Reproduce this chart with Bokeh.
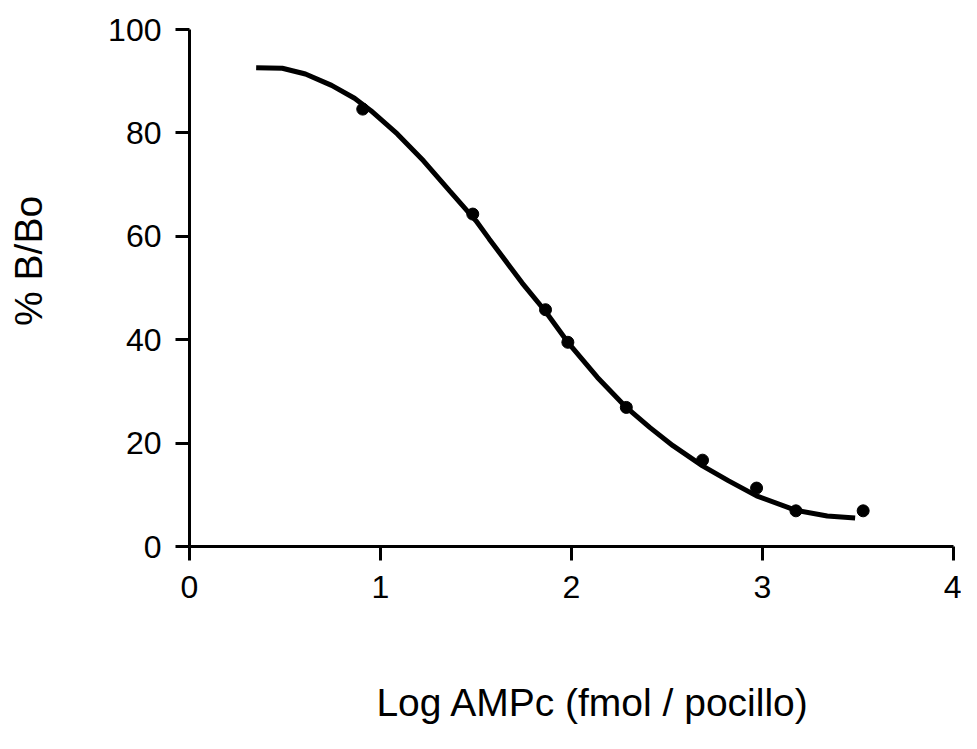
from bokeh.plotting import figure
from bokeh.models import Range1d, FixedTicker, LinearAxis
from bokeh.embed import file_html
from bokeh.resources import INLINE

# Measured points (log dose vs % B/Bo)
log_ampc = [0.907, 1.483, 1.864, 1.981, 2.287, 2.686, 2.969, 3.175, 3.527]
pct_b_bo = [84.6, 64.3, 45.8, 39.5, 26.9, 16.7, 11.3, 6.9, 6.9]

# Fitted curve
curve_x = [0.349, 0.486, 0.607, 0.744, 0.864, 0.950, 1.088, 1.225, 1.362, 1.500,
           1.569, 1.741, 1.861, 1.981, 2.136, 2.287, 2.411, 2.531, 2.686, 2.823,
           2.969, 3.175, 3.339, 3.485]
curve_y = [92.6, 92.5, 91.4, 89.2, 86.7, 84.3, 79.8, 74.6, 68.8, 63.0,
           59.5, 51.0, 45.6, 39.5, 32.7, 26.9, 23.0, 19.5, 15.6, 12.7,
           9.8, 7.0, 5.9, 5.5]

x_ticks = [0, 1, 2, 3, 4]
y_ticks = [0, 20, 40, 60, 80, 100]
x_title = "Log AMPc (fmol / pocillo)"
y_title = "% B/Bo"

NBSP = "\u00a0"

p = figure(width=961, height=733, output_backend="svg", toolbar_location=None,
           x_range=Range1d(0, 4), y_range=Range1d(0, 100),
           min_border_left=189, min_border_right=8, min_border_top=29,
           min_border_bottom=187, background_fill_color="white",
           border_fill_color="white")
p.outline_line_color = None
p.grid.visible = False

p.line(curve_x, curve_y, line_color="black", line_width=5)
p.scatter(log_ampc, pct_b_bo, size=12, fill_color="black", line_color="black")

for ax in (p.xaxis[0], p.yaxis[0]):
    ax.axis_line_width = 3
    ax.axis_line_color = "black"
    ax.major_tick_line_width = 3
    ax.major_tick_line_color = "black"
    ax.major_tick_out = 14
    ax.major_tick_in = 0
    ax.minor_tick_line_color = None
    ax.major_label_text_font = "Liberation Sans"
    ax.major_label_text_font_size = "32px"
    ax.major_label_text_color = "black"

p.xaxis[0].ticker = FixedTicker(ticks=x_ticks)
p.yaxis[0].ticker = FixedTicker(ticks=y_ticks)
p.xaxis[0].major_label_standoff = 15
p.yaxis[0].major_label_standoff = 14


def title_axis(label, standoff):
    a = LinearAxis(axis_label=label, ticker=FixedTicker(ticks=[]),
                   axis_line_color=None, major_tick_line_color=None,
                   minor_tick_line_color=None, major_label_text_font_size="0px",
                   major_tick_out=0, major_tick_in=0, major_label_standoff=0)
    a.axis_label_text_font = "Liberation Sans"
    a.axis_label_text_font_size = "39px"
    a.axis_label_text_font_style = "normal"
    a.axis_label_text_color = "black"
    a.axis_label_standoff = standoff
    return a


# Axis titles, slightly off-centre as in the original (padded with no-break spaces)
p.add_layout(title_axis(NBSP * 4 + x_title, 80), "below")
p.add_layout(title_axis(NBSP * 5 + y_title, 56), "left")

open("out.html", "w").write(file_html(p, INLINE))
